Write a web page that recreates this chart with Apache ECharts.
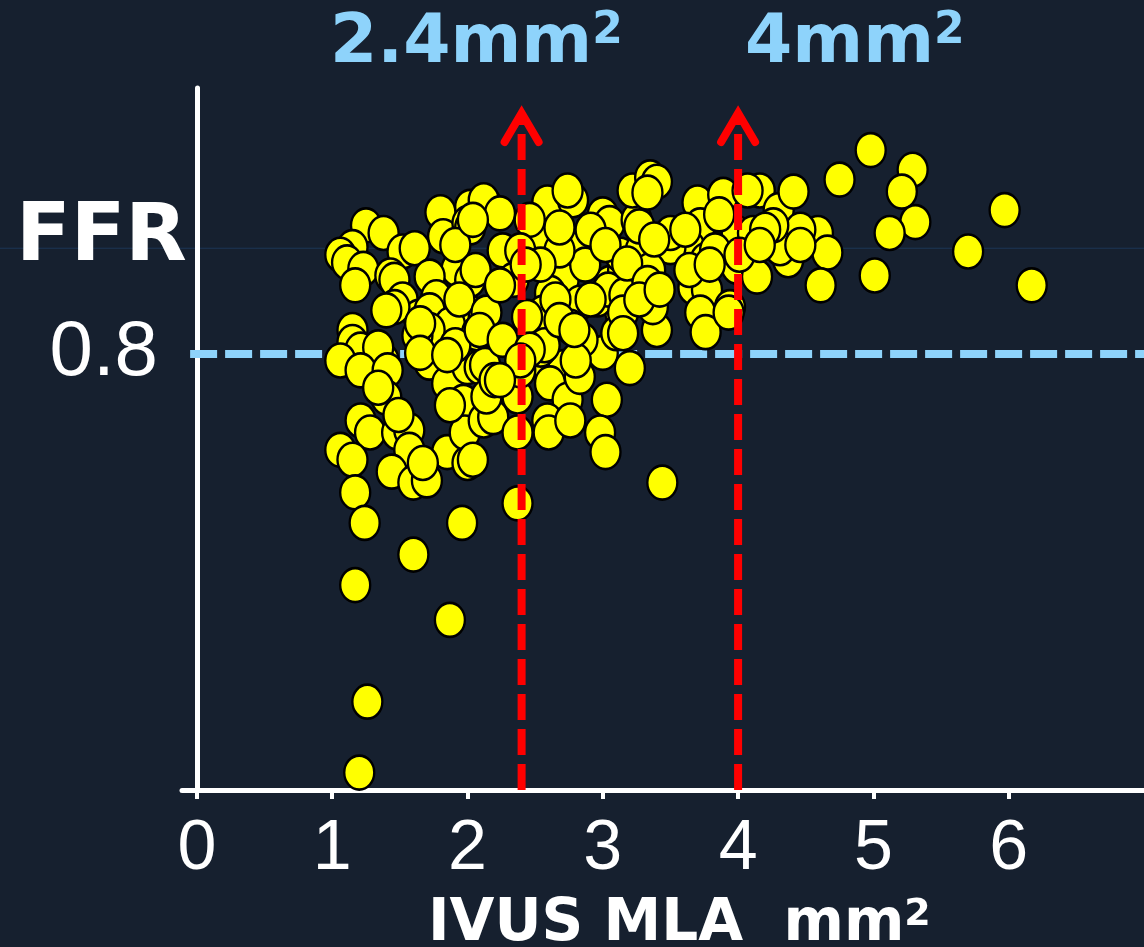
<!DOCTYPE html>
<html>
<head>
<meta charset="utf-8">
<script src="https://cdn.jsdelivr.net/npm/echarts@6/dist/echarts.min.js"></script>
<style>
  html, body { margin: 0; padding: 0; background: #16202f; }
  #chart { width: 1144px; height: 947px; }
</style>
</head>
<body>
<div id="chart"></div>
<script>
// IVUS minimal lumen area (mm²) vs fractional flow reserve, one entry per lesion
const lesions = [
  // upper-left group
  [1.25,0.918],[1.38,0.911],[1.15,0.898],[1.06,0.891],[1.11,0.884],[1.23,0.878],[1.17,0.863],[1.52,0.894],
  [1.61,0.897],[1.43,0.872],[1.46,0.868],[1.80,0.930],[1.82,0.908],[2.02,0.935],[2.00,0.920],[2.14,0.937],
  [1.92,0.878],[1.72,0.871],[2.02,0.868],[1.52,0.850],[1.64,0.834],[1.77,0.852],[2.02,0.838],[2.12,0.834],
  [1.15,0.822],[1.46,0.843],[1.40,0.840],[2.02,0.916],[1.72,0.840],[1.87,0.827],[1.94,0.850],[1.91,0.900],
  [1.72,0.822],
  // lower-left group
  [1.15,0.811],[1.21,0.804],[1.06,0.794],[1.38,0.794],[1.34,0.806],[1.21,0.785],[1.41,0.785],[1.63,0.817],
  [1.65,0.828],[1.72,0.792],[1.65,0.801],[1.85,0.773],[1.97,0.756],[2.00,0.788],[2.09,0.788],[2.07,0.819],
  [1.40,0.760],[1.21,0.739],[1.28,0.728],[1.06,0.712],[1.15,0.703],[1.48,0.728],[1.57,0.730],[1.57,0.712],
  [1.44,0.692],[1.60,0.682],[1.70,0.684],[1.85,0.710],[2.00,0.700],[1.98,0.728],[2.12,0.739],[1.67,0.700],
  [1.17,0.673],[1.24,0.645],[1.96,0.645],[1.87,0.753],[1.49,0.744],[1.34,0.769],[1.91,0.808],[1.85,0.799],
  // upper-middle group
  [2.12,0.941],[2.24,0.929],[2.26,0.895],[2.04,0.923],[2.59,0.939],[2.78,0.941],[2.51,0.907],[2.85,0.898],
  [3.00,0.928],[3.05,0.920],[3.25,0.923],[3.22,0.950],[2.06,0.877],[2.34,0.868],[2.71,0.868],[3.05,0.865],
  [3.15,0.877],[2.61,0.856],[2.14,0.838],[2.56,0.838],[2.83,0.847],[3.13,0.838],[2.44,0.834],[2.74,0.950],
  [2.46,0.923],[2.87,0.882],[2.96,0.850],[3.04,0.859],[3.13,0.891],[3.24,0.882],[2.91,0.914],[2.68,0.895],
  [2.39,0.895],[2.54,0.882],[2.24,0.863],[2.68,0.916],[3.02,0.900],[2.91,0.850],[2.43,0.882],[2.65,0.850],
  [3.28,0.895],[3.16,0.854],
  // lower-middle group
  [2.13,0.790],[2.09,0.822],[2.26,0.813],[2.59,0.790],[2.71,0.788],[2.54,0.804],[2.61,0.773],[2.74,0.758],
  [2.59,0.739],[2.60,0.728],[3.00,0.801],[3.03,0.758],[2.98,0.728],[3.02,0.710],[3.20,0.787],[2.19,0.742],
  [2.14,0.761],[2.37,0.728],[2.04,0.703],[2.37,0.761],[2.83,0.779],[2.85,0.813],[3.10,0.819],[2.76,0.825],
  [2.57,0.808],[2.80,0.794],[2.39,0.785],[2.46,0.804],[2.20,0.776],[2.68,0.831],[2.39,0.794],[2.79,0.822],
  [2.24,0.776],[2.76,0.739],
  // 3–4 mm² group
  [3.35,0.962],[3.40,0.958],[3.33,0.948],[3.27,0.917],[3.70,0.939],[3.72,0.918],[3.64,0.898],[3.50,0.898],
  [3.89,0.946],[3.99,0.911],[3.99,0.880],[4.14,0.871],[4.16,0.950],[4.30,0.932],[4.37,0.886],[3.35,0.877],
  [3.18,0.883],[3.33,0.865],[3.67,0.861],[3.77,0.859],[3.94,0.843],[3.72,0.838],[3.40,0.822],[3.15,0.838],
  [3.15,0.819],[3.37,0.843],[3.50,0.911],[3.76,0.820],[3.93,0.838],[3.44,0.682],[3.38,0.905],[3.61,0.914],
  [3.27,0.850],[3.42,0.859],[3.76,0.886],
  // large lumens
  [4.98,0.987],[5.29,0.969],[5.21,0.949],[4.75,0.960],[4.41,0.949],[5.31,0.921],[5.12,0.911],[4.59,0.911],
  [4.46,0.914],[4.66,0.893],[4.61,0.863],[5.01,0.872],[5.97,0.932],[5.70,0.894],[6.17,0.863],[4.31,0.897],
  [4.07,0.950],[4.26,0.918],[4.11,0.911],[4.20,0.914],[3.86,0.928],[3.83,0.895],[3.64,0.877],[3.79,0.882],
  [4.01,0.891],[4.46,0.900],[4.16,0.900],
  // low FFR outliers
  [1.17,0.588],[1.60,0.616],[1.26,0.481],[1.20,0.416],[1.87,0.556],[2.37,0.663]
];

const mlaTicks = [0, 1, 2, 3, 4, 5, 6];
const ffrTicks = [0.8];
const ffrThreshold = 0.8;
const cutoffs = [2.4, 4];
const cutoffLabels = ['2.4mm', '4mm'];
const mlaRange = [-0.11, 7];
const ffrRange = [0.4, 1.044];
const arrowTopFfr = 1.021;
const guideFfr = 0.897;

const WHITE = '#ffffff';
const SKY = '#8ed3fb';
const RED = '#ff0000';
const BOLD_FONT = '"DejaVu Sans", sans-serif';
const PLAIN_FONT = '"Liberation Sans", Arial, sans-serif';

// bold label with a raised "2" (square millimetres)
function squaredLabel(base, color, size, supSize) {
  return {
    text: '{b|' + base + '}{s|2}',
    rich: {
      b: { fill: color, font: 'bold ' + size + 'px ' + BOLD_FONT, verticalAlign: 'bottom' },
      s: { fill: color, font: 'bold ' + supSize + 'px ' + BOLD_FONT, verticalAlign: 'top' }
    }
  };
}

const chart = echarts.init(document.getElementById('chart'), null, { renderer: 'canvas' });

const option = {
  backgroundColor: '#16202f',
  animation: false,
  grid: { left: 182, right: 0, top: 88, bottom: 157, containLabel: false },
  xAxis: {
    type: 'value',
    min: mlaRange[0],
    max: mlaRange[1],
    axisLine: { show: true, lineStyle: { color: WHITE, width: 5 } },
    axisTick: { show: true, customValues: mlaTicks, length: 9, lineStyle: { color: WHITE, width: 4 } },
    axisLabel: {
      show: true, customValues: mlaTicks, color: WHITE,
      fontFamily: PLAIN_FONT, fontSize: 70, margin: 25
    },
    splitLine: { show: false }
  },
  yAxis: {
    type: 'value',
    min: ffrRange[0],
    max: ffrRange[1],
    axisLine: { show: true, onZero: true, lineStyle: { color: WHITE, width: 5 } },
    axisTick: { show: false },
    axisLabel: {
      show: true, customValues: ffrTicks, color: WHITE,
      fontFamily: PLAIN_FONT, fontSize: 78, margin: 24
    },
    splitLine: { show: false }
  },
  series: [
    {
      // FFR 0.8 ischemia threshold
      name: 'threshold',
      type: 'line',
      z: 1,
      silent: true,
      symbol: 'none',
      data: [[-0.05, ffrThreshold], [mlaRange[1], ffrThreshold]],
      lineStyle: { color: SKY, width: 8, type: [27, 8] }
    },
    {
      name: 'lesions',
      type: 'scatter',
      z: 3,
      silent: true,
      symbol: 'circle',
      symbolSize: [30, 34],
      data: lesions,
      itemStyle: { color: '#ffff00', borderColor: '#000000', borderWidth: 2.5, opacity: 1 }
    },
    {
      // MLA cut-off arrows
      name: 'cutoffs',
      type: 'custom',
      z: 5,
      silent: true,
      clip: false,
      data: cutoffs.map(v => [v]),
      renderItem: function (params, api) {
        const x = api.value(0);
        const base = api.coord([x, ffrRange[0]]);
        const tip = api.coord([x, arrowTopFfr]);
        return {
          type: 'group',
          children: [
            {
              type: 'line',
              shape: { x1: base[0], y1: base[1], x2: tip[0], y2: tip[1] + 4 },
              style: { stroke: RED, lineWidth: 8, lineDash: [26, 9] }
            },
            {
              type: 'polyline',
              shape: { points: [[tip[0] - 17, tip[1] + 29], [tip[0], tip[1]], [tip[0] + 17, tip[1] + 29]] },
              style: { stroke: RED, fill: null, lineWidth: 8, lineCap: 'round', lineJoin: 'miter' }
            }
          ]
        };
      }
    }
  ],
  graphic: [
    {
      type: 'text', left: 16, top: 199, z: 10,
      style: { text: 'FFR', fill: WHITE, font: 'bold 80px ' + BOLD_FONT }
    },
    {
      type: 'text', left: 330, top: 10, z: 10,
      style: squaredLabel(cutoffLabels[0], SKY, 68, 44)
    },
    {
      type: 'text', left: 745, top: 10, z: 10,
      style: squaredLabel(cutoffLabels[1], SKY, 68, 44)
    },
    {
      type: 'text', left: 428, top: 896, z: 10,
      style: squaredLabel('IVUS MLA  mm', WHITE, 58, 38)
    }
  ]
};

chart.setOption(option);

// thin rule running across the whole slide
const guideY = chart.convertToPixel({ yAxisIndex: 0 }, guideFfr);
chart.setOption({
  graphic: option.graphic.concat([{
    type: 'line', z: 0, silent: true,
    shape: { x1: 0, y1: guideY, x2: 1144, y2: guideY },
    style: { stroke: '#1c3656', lineWidth: 1 }
  }])
});
</script>
</body>
</html>
